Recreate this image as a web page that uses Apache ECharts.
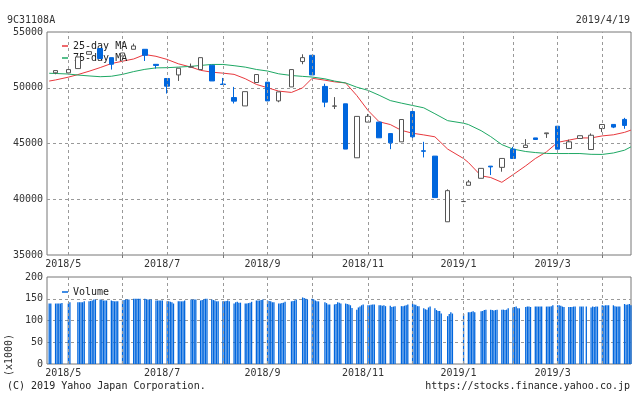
<!DOCTYPE html>
<html><head><meta charset="utf-8">
<script src="https://cdn.jsdelivr.net/npm/echarts@6/dist/echarts.min.js"></script>
<style>html,body{margin:0;padding:0;background:#fff}#c{width:634px;height:394px}</style>
</head><body><div id="c"></div>
<script>
// ---------- data ----------
const candleDates = ['2018-04-23','2018-05-01','2018-05-07','2018-05-14','2018-05-21','2018-05-28','2018-06-04','2018-06-11','2018-06-18','2018-06-25','2018-07-02','2018-07-09','2018-07-17','2018-07-23','2018-07-30','2018-08-06','2018-08-13','2018-08-20','2018-08-27','2018-09-03','2018-09-10','2018-09-18','2018-09-25','2018-10-01','2018-10-09','2018-10-15','2018-10-22','2018-10-29','2018-11-05','2018-11-12','2018-11-19','2018-11-26','2018-12-03','2018-12-10','2018-12-17','2018-12-25','2019-01-04','2019-01-07','2019-01-15','2019-01-21','2019-01-28','2019-02-04','2019-02-12','2019-02-18','2019-02-25','2019-03-04','2019-03-11','2019-03-18','2019-03-25','2019-04-01','2019-04-08','2019-04-15'];
const opens  = [51340,51340,51720,53000,53510,52700,52850,53450,53450,52100,50830,51150,51850,51630,52020,50330,49120,48370,50470,50500,48820,50075,52350,52910,50120,48340,48560,43720,46920,46920,45890,45150,47870,44350,43870,37980,39790,41250,41880,42970,42860,44490,44640,45500,45880,46550,44550,45450,44460,46340,46710,47160];
const closes = [51540,51630,52760,53240,52620,52110,53120,53750,52910,52000,50140,51750,51880,52700,50610,50290,48800,49650,51185,48820,49630,51630,52700,51150,48710,48370,44500,47430,47430,45510,45060,47150,45600,44300,40150,40770,39800,41550,42770,42900,43660,43660,44850,45360,45950,44490,45150,45700,45740,46700,46470,46620];
const lows   = [51210,51340,51720,53000,52620,51630,52850,53450,52400,51720,49480,50610,51820,51630,50610,50290,48590,48370,50470,48820,48700,50075,52110,51150,48260,48090,44500,43720,46920,45510,44490,45150,45360,43750,40150,37980,39790,41250,41880,42170,42470,43660,44640,45360,45500,44490,44550,45450,44460,46020,46380,46320];
const highs  = [51540,51630,52760,53240,53560,52700,53120,53960,53450,52100,50830,51750,52170,52700,52020,50880,50075,49650,51185,50500,49630,51630,53000,52910,50360,49160,48560,47430,47650,46920,45890,47150,47870,45150,43870,40890,39800,41730,42770,42980,43660,44700,45390,45500,45950,46550,45350,45700,45900,46700,46710,47300];

const maDates = ['2018-04-19'].concat(candleDates, ['2019-04-19']);
const ma25 = [50600,50700,50950,51180,51480,51810,52170,52380,52580,52980,52820,52540,52150,51850,51560,51400,51310,51200,50810,50300,50000,49700,49580,49990,50850,50680,50530,50430,49300,47970,46950,46700,46180,45920,45770,45600,44500,43650,43300,42100,41950,41520,42200,43000,43650,44250,45100,45300,45500,45500,45680,45780,46000,46200];
const ma75 = [51300,51280,51230,51140,51060,50990,51030,51200,51450,51650,51780,51800,51850,51920,52000,52090,52090,51980,51850,51640,51500,51250,51100,51020,50960,50800,50600,50430,50050,49770,49330,48850,48620,48410,48200,47670,47050,46820,46700,46150,45620,44900,44500,44280,44190,44110,44100,44100,44100,44030,44020,44150,44400,44700];

// daily volume (x1000), one row per calendar week starting Monday 2018-04-16
const volumeWeeks = [
 [139,139],
 [139,139,139,139,140],
 [139,142],
 [142,142,142,142,144],
 [144,145,146,148,148],
 [148,147,146,146,146],
 [146,145,144,144,144],
 [146,147,148,148,148],
 [150,150,150,150,150],
 [150,149,148,148,148],
 [146,146,146,146,146],
 [144,144,143,142,139],
 [144,144,144,144,146],
 [148,148,148,148],
 [146,147,148,150,150],
 [148,147,146,144,144],
 [144,144,145,146,144],
 [139,142,143,141,141],
 [139,139,140,141,143],
 [146,146,146,147,148],
 [146,145,144,142,142],
 [139,139,140,141,143],
 [144,145,146,148],
 [153,152,150,148],
 [150,148,146,144,144],
 [142,140,137,137],
 [137,138,142,141,139],
 [139,138,137,135,129],
 [125,130,132,135,137],
 [135,135,136,137,137],
 [135,135,134,135,133],
 [134,131,132,133],
 [133,133,134,135,137],
 [139,137,136,133,133],
 [128,126,125,130,132],
 [128,124,122,122,116],
 [110,115,119,116],
 [115],
 [119,119,120,121,119],
 [121,122,124,125],
 [125,124,123,124,125],
 [125,125,124,125,128],
 [130,131,132,128,128],
 [131,132,132,131],
 [132,132,132,132,132],
 [132,132,132,133,135],
 [135,135,134,132,131],
 [131,131,131,132,132],
 [132,132,132,132],
 [130,132,131,132,132],
 [135,134,135,135,135],
 [135,133,132,132,132],
 [138,136,137,138,135]
];
const holidays = ['2018-04-30','2018-05-03','2018-05-04','2018-07-16','2018-09-17','2018-09-24','2018-10-08','2018-11-23','2018-12-24','2018-12-31','2019-01-01','2019-01-02','2019-01-03','2019-01-14','2019-02-11','2019-03-21'];
const firstDay = '2018-04-19';

const gridMonths = ['2018-05-01','2018-06-04','2018-07-02','2018-08-06','2018-09-03','2018-10-01','2018-11-05','2018-12-03','2019-01-04','2019-02-04','2019-03-04','2019-04-01'];
const labelMonths = ['2018-05-01','2018-07-02','2018-09-03','2018-11-05','2019-01-04','2019-03-04'];
const labelTexts = ['2018/5','2018/7','2018/9','2018/11','2019/1','2019/3'];
const tickMonths = ['2018-06-04','2018-08-06','2018-10-01','2018-12-03','2019-02-04','2019-04-01'];

// ---------- helpers ----------
const T = s => { const p = s.split('-').map(Number); return new Date(p[0], p[1]-1, p[2]).getTime(); };
const fmt = dt => dt.getFullYear() + '-' + String(dt.getMonth()+1).padStart(2,'0') + '-' + String(dt.getDate()).padStart(2,'0');

const candleData = candleDates.map((d,i) => [T(d), opens[i], closes[i], lows[i], highs[i]]);
const ma25Data = maDates.map((d,i) => [T(d), ma25[i]]);
const ma75Data = maDates.map((d,i) => [T(d), ma75[i]]);

const volData = [];
const startTs = T(firstDay);
volumeWeeks.forEach((vals, w) => {
  const days = [];
  for (let k = 0; k < 5; k++) {
    const dt = new Date(2018, 3, 16 + w*7 + k);
    if (dt.getTime() < startTs) continue;
    if (holidays.indexOf(fmt(dt)) >= 0) continue;
    days.push(dt.getTime());
  }
  vals.forEach((v, i) => { if (i < days.length) volData.push([days[i], v]); });
});

const xMin = new Date(2018, 3, 17, 15, 0).getTime();
const xMax = new Date(2019, 3, 19, 1, 0).getTime();
const labelTs = labelMonths.map(T);

const FONT = 'DejaVu Sans Mono';
const BLUE = '#0066dd', RED = '#e8383d', GREEN = '#1ea864';
const gridLineMark = {
  silent: true, symbol: ['none','none'], animation: false,
  label: { show: false },
  lineStyle: { type: [3,3], color: '#999', width: 1 },
  data: gridMonths.map(s => ({ xAxis: T(s) }))
};
const xAxisBase = (idx, withTicks) => ({
  type: 'value', gridIndex: idx, min: xMin, max: xMax, scale: true,
  axisLine: { show: false },
  splitLine: { show: false },
  axisTick: withTicks ? { show: true, customValues: tickMonths.map(T), length: 3, inside: false, lineStyle: { color: '#777' } } : { show: false },
  axisLabel: {
    customValues: labelTs, fontFamily: FONT, fontSize: 10, color: '#333', margin: 4,
    padding: [0, 10, 0, 0],
    formatter: v => { const i = labelTs.indexOf(v); return i >= 0 ? labelTexts[i] : ''; }
  }
});
const plain = v => String(v);

const chart = echarts.init(document.getElementById('c'), null, { renderer: 'canvas' });
chart.setOption({
  animation: false,
  backgroundColor: '#fff',
  textStyle: { fontFamily: FONT },
  grid: [
    { left: 47, right: 3, top: 32, height: 223, show: true, borderColor: '#777', borderWidth: 1, backgroundColor: 'transparent' },
    { left: 47, right: 3, top: 277, height: 87, show: true, borderColor: '#777', borderWidth: 1, backgroundColor: 'transparent' }
  ],
  legend: [
    { data: ['25-day MA','75-day MA'], orient: 'vertical', left: 57, top: 35, icon: 'rect', itemWidth: 6, itemHeight: 1.5, itemGap: 0,
      textStyle: { fontFamily: FONT, fontSize: 10, color: '#222', lineHeight: 12 } },
    { data: ['Volume'], left: 57, top: 281, icon: 'rect', itemWidth: 6, itemHeight: 1.5,
      textStyle: { fontFamily: FONT, fontSize: 10, color: '#222', lineHeight: 12 } }
  ],
  xAxis: [ xAxisBase(0, true), xAxisBase(1, false) ],
  yAxis: [
    { type: 'value', gridIndex: 0, min: 35000, max: 55000, interval: 5000,
      axisLine: { show: false }, axisTick: { show: false },
      axisLabel: { fontFamily: FONT, fontSize: 10, color: '#333', margin: 4, formatter: plain },
      splitLine: { show: true, showMinLine: false, showMaxLine: false, lineStyle: { type: [3,3], color: '#999' } } },
    { type: 'value', gridIndex: 1, min: 0, max: 200, interval: 50,
      axisLine: { show: false }, axisTick: { show: false },
      axisLabel: { fontFamily: FONT, fontSize: 10, color: '#333', margin: 4, formatter: plain },
      splitLine: { show: true, showMinLine: false, showMaxLine: false, lineStyle: { type: [3,3], color: '#999' } } }
  ],
  series: [
    { name: 'price', type: 'candlestick', xAxisIndex: 0, yAxisIndex: 0, data: candleData,
      encode: { x: 0, y: [1,2,3,4] }, barWidth: 5, z: 4,
      itemStyle: { color: '#ffffff', color0: BLUE, borderColor: '#555', borderColor0: BLUE, borderColorDoji: '#555', borderWidth: 1 },
      markLine: gridLineMark },
    { name: '25-day MA', type: 'line', xAxisIndex: 0, yAxisIndex: 0, data: ma25Data, showSymbol: false, symbol: 'none', z: 3,
      lineStyle: { color: RED, width: 1 }, itemStyle: { color: RED } },
    { name: '75-day MA', type: 'line', xAxisIndex: 0, yAxisIndex: 0, data: ma75Data, showSymbol: false, symbol: 'none', z: 3,
      lineStyle: { color: GREEN, width: 1 }, itemStyle: { color: GREEN } },
    { name: 'Volume', type: 'bar', xAxisIndex: 1, yAxisIndex: 1, data: volData, barWidth: 1.3, z: 3,
      itemStyle: { color: BLUE }, markLine: gridLineMark }
  ],
  graphic: [
    { type: 'text', left: 7, top: 15, style: { text: '9C31108A', font: '10px "DejaVu Sans Mono"', fill: '#333' } },
    { type: 'text', right: 4, top: 15, style: { text: '2019/4/19', font: '10px "DejaVu Sans Mono"', fill: '#333' } },
    { type: 'text', left: 7, top: 381, style: { text: '(C) 2019 Yahoo Japan Corporation.', font: '10px "DejaVu Sans Mono"', fill: '#222' } },
    { type: 'text', right: 4, top: 381, style: { text: 'https://stocks.finance.yahoo.co.jp', font: '10px "DejaVu Sans Mono"', fill: '#222' } },
    { type: 'text', x: 4, y: 376, rotation: Math.PI/2, style: { text: '(x1000)', font: '10px "DejaVu Sans Mono"', fill: '#333' } }
  ]
});
</script>
</body></html>
